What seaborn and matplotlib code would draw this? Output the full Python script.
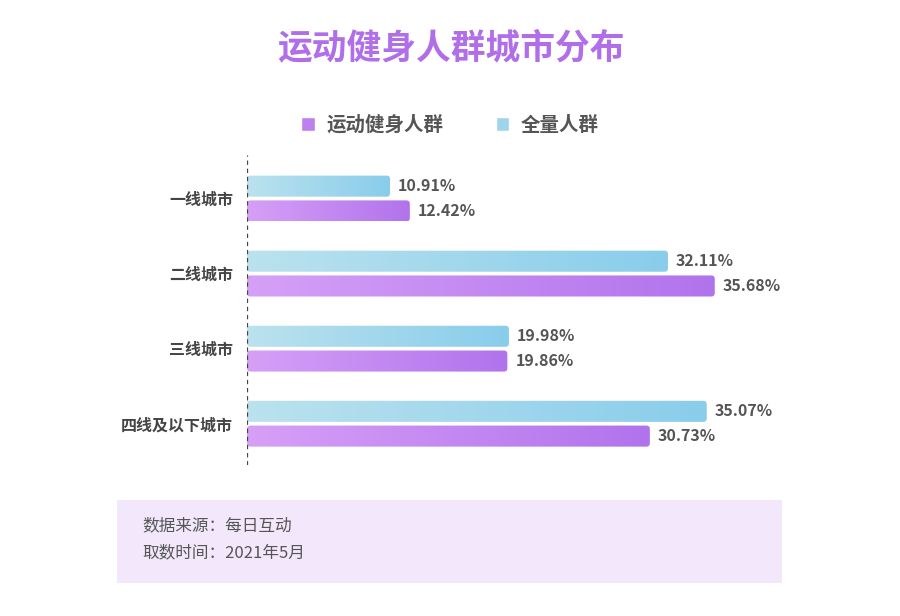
import numpy as np
import pandas as pd
import seaborn as sns
import matplotlib.pyplot as plt
from matplotlib.colors import LinearSegmentedColormap, to_rgba
from matplotlib.patches import FancyBboxPatch, Patch

# chart data
cities = ['一线城市', '二线城市', '三线城市', '四线及以下城市']
series = ['全量人群', '运动健身人群']
all_people = [10.91, 32.11, 19.98, 35.07]
fitness_people = [12.42, 35.68, 19.86, 30.73]

title = '运动健身人群城市分布'
source_lines = ['数据来源：每日互动', '取数时间：2021年5月']

sns.set_theme(style='white')
plt.rcParams['font.family'] = ['Noto Sans CJK SC', 'DejaVu Sans']

df = pd.DataFrame({
    'city': cities * 2,
    'group': [series[0]] * len(cities) + [series[1]] * len(cities),
    'value': all_people + fitness_people,
})

cmaps = {
    series[0]: LinearSegmentedColormap.from_list('blue', ['#bbe2ee', '#89cdeb']),
    series[1]: LinearSegmentedColormap.from_list('purple', ['#d6a0f7', '#b173ec']),
}
palette = {series[0]: '#a3d8ed', series[1]: '#c58af1'}

fig = plt.figure(figsize=(9, 6.16), dpi=100)
W, H = 900, 616
ax = fig.add_axes([247 / W, (H - 465) / H, (800 - 247) / W, 310 / H])

sns.barplot(data=df, y='city', x='value', hue='group', order=cities,
            hue_order=series, palette=palette, orient='h', width=0.66,
            gap=0.15, legend=False, ax=ax)

xmax = 553 / 13.11
ax.set_xlim(0, xmax)
ax.set_ylim(3.55, -0.58)

# replace flat bars with rounded gradient bars
grad = np.linspace(0, 1, 256).reshape(1, -1)
px_x = 1 / 13.11
px_y = 1 / 75
for bar in list(ax.patches):
    x0, y0 = bar.get_x(), bar.get_y()
    w, h = bar.get_width(), bar.get_height()
    if w <= 0:
        continue
    fc = bar.get_facecolor()
    grp = min(palette, key=lambda k: sum(abs(a - b) for a, b in zip(to_rgba(palette[k]), fc)))
    bar.set_visible(False)
    clip = FancyBboxPatch((x0, y0), w, h,
                          boxstyle='round,pad=0,rounding_size=%f' % (3.5 * px_x),
                          mutation_aspect=px_y / px_x,
                          transform=ax.transData, facecolor='none', edgecolor='none')
    ax.add_patch(clip)
    im = ax.imshow(grad, cmap=cmaps[grp], aspect='auto', extent=(x0, x0 + w, y0 + h, y0),
                   interpolation='bicubic', zorder=2)
    im.set_clip_path(clip)
    ax.text(x0 + w + 8 * px_x, y0 + h / 2, f'{w:.2f}%', va='center', ha='left',
            fontsize=11.5, fontweight='bold', color='#555555')

ax.set_xlim(0, xmax)
ax.set_ylim(3.55, -0.58)
ax.set_aspect('auto')

ax.axvline(0, color='#444444', lw=0.9, ls=(0, (3.5, 3)), zorder=3)
for s in ax.spines.values():
    s.set_visible(False)
ax.set_xticks([])
ax.set_xlabel('')
ax.set_ylabel('')
ax.tick_params(axis='y', length=0, pad=10)
for lab in ax.get_yticklabels():
    lab.set_fontsize(11.5)
    lab.set_fontweight('bold')
    lab.set_color('#444444')

fig.text(451 / W, 1 - 48 / H, title, ha='center', va='center', fontsize=25,
         fontweight='bold', color='#b06ee9')

handles = [Patch(facecolor='#bd80ee', label=series[1]),
           Patch(facecolor='#9fd5ec', label=series[0])]
fig.legend(handles=handles, loc='center', bbox_to_anchor=(450 / W, 1 - 125 / H),
           ncol=2, frameon=False, handlelength=0.7, handleheight=0.7,
           handletextpad=0.6, columnspacing=2.7, prop={'weight': 'bold', 'size': 14},
           labelcolor='#555555')

box = FancyBboxPatch((117 / W, 1 - 583 / H), (782 - 117) / W, 83 / H,
                     boxstyle='square,pad=0', transform=fig.transFigure,
                     facecolor='#f3e8fb', edgecolor='none', zorder=0)
fig.patches.append(box)
for i, line in enumerate(source_lines):
    fig.text(142 / W, 1 - (526 + 27 * i) / H, line, ha='left', va='center',
             fontsize=12, color='#555555')

fig.savefig('out.png', dpi=100)
